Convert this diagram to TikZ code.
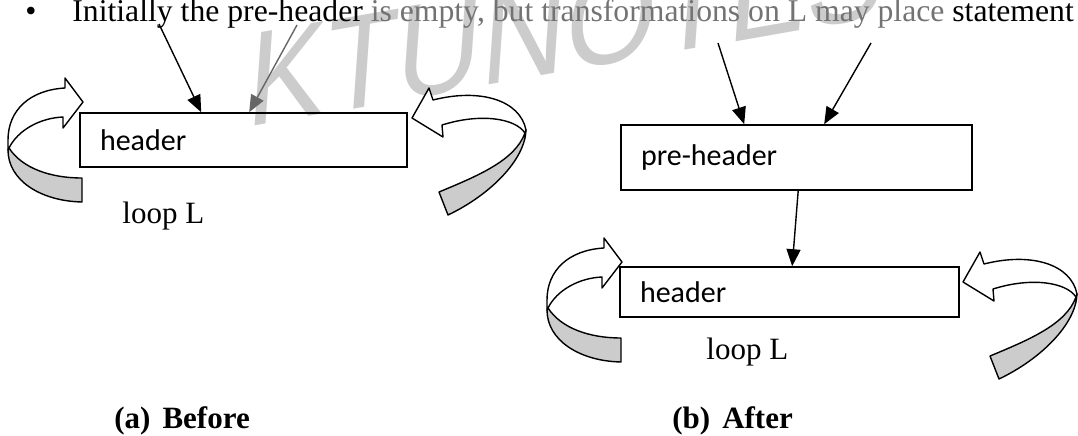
\documentclass[tikz,border=0pt]{standalone}
\usepackage{fontspec}
\setmainfont{Liberation Serif}
\newfontfamily\calibri{Carlito}
\newfontfamily\wmsans{Liberation Sans}
\usetikzlibrary{arrows.meta}

\tikzset{
  blk/.style = {draw, line width=0.8pt, inner xsep=10pt, inner ysep=0pt, align=left,
    font=\calibri\fontsize{15}{18}\selectfont},
  flow/.style = {-{Triangle[length=8.5pt, width=7pt]}, line width=0.7pt},
  lbl/.style = {anchor=base west, inner sep=0pt, font=\fontsize{15.5}{18}\selectfont},
  wmark/.style = {anchor=base west, inner sep=0pt, text=black!20,
    font=\wmsans\fontsize{66}{70}\selectfont},
  bandfront/.style = {fill=white, draw=black, line width=0.7pt, line join=round},
  bandback/.style = {fill=black!20, draw=black, line width=0.7pt, line join=round},
  % curved block arrow coming back in from the left, tip at (0,0)
  loop arrow left/.pic = {
    \filldraw[bandback] (-74,46) .. controls (-61,66) and (-33,76) .. (-1,76)
      -- (-1,100) .. controls (-43,99) and (-75,78) .. (-75,48) -- cycle;
    \filldraw[bandfront] (-74,46) .. controls (-65,28) and (-43,16) .. (-20,15)
      -- (-20,26) -- (0,0) -- (-18,-24) -- (-18,-14)
      .. controls (-53,-12) and (-75,8) .. (-75,38) -- (-75,48) -- cycle;
  },
  % curved block arrow coming back in from the right, tip at (0,0)
  loop arrow right/.pic = {
    \filldraw[bandback] (114,12) .. controls (113,42) and (78,77) .. (36,97)
      -- (27,74) .. controls (68,57) and (103,42) .. (113,15) -- cycle;
    \filldraw[bandfront] (21,-18) .. controls (68,-30) and (108,-18) .. (114,12)
      -- (113,15) .. controls (103,0) and (68,-5) .. (30,7)
      -- (31,19) -- (0,0) -- (17,-30) -- cycle;
  }
}

\begin{document}
\begin{tikzpicture}[x=0.5pt, y=-0.5pt]
  \useasboundingbox (0,0) rectangle (1078,435);

  % watermark
  \node[wmark, rotate=10, xslant=0.25, xscale=0.9] (wm) at (245,128) {KTUNOTES};

  % text line above
  \node[lbl, anchor=base, font=\fontsize{15.85}{18}\selectfont] (bul) at (31,21) {•};
  \node[lbl, font=\fontsize{15.85}{18}\selectfont] (intro) at (72,21) {Initially the pre-header \textcolor{black!55}{is empty, but transformations on L may place} statement};

  % (a) before
  \node[blk, text width=143.5pt, minimum height=27pt] (hdrA) at (243.5,140) {header};
  \coordinate (srcA1) at (159,24);
  \coordinate (srcA2) at (297,25);
  \draw[flow] (srcA1) -- ([xshift=61pt]hdrA.north west);
  \draw[flow, black!60] (srcA2) -- ([xshift=85pt]hdrA.north west);
  \pic at (83,102) {loop arrow left};
  \pic at (412,118) {loop arrow right};
  \node[lbl] (loopA) at (122,223) {loop L};
  \node[lbl, font=\bfseries\fontsize{15.5}{18}\selectfont] (capA) at (114,428) {(a)\hspace{6pt}Before};

  % (b) after
  \node[blk, text width=155.5pt, minimum height=32.5pt] (preB) at (796.5,157.5) {pre-header};
  \node[blk, text width=149.5pt, minimum height=25pt] (hdrB) at (789.5,292) {header};
  \coordinate (srcB1) at (718,43);
  \coordinate (srcB2) at (871,43);
  \draw[flow] (srcB1) -- ([xshift=62pt]preB.north west);
  \draw[flow] (srcB2) -- ([xshift=102pt]preB.north west);
  \draw[flow] ([xshift=89pt]preB.south west) -- ([xshift=86.5pt]hdrB.north west);
  \pic at (622,262) {loop arrow left};
  \pic at (963,282) {loop arrow right};
  \node[lbl] (loopB) at (706,359) {loop L};
  \node[lbl, font=\bfseries\fontsize{15.5}{18}\selectfont] (capB) at (672,428) {(b)\hspace{6pt}After};
\end{tikzpicture}
\end{document}
